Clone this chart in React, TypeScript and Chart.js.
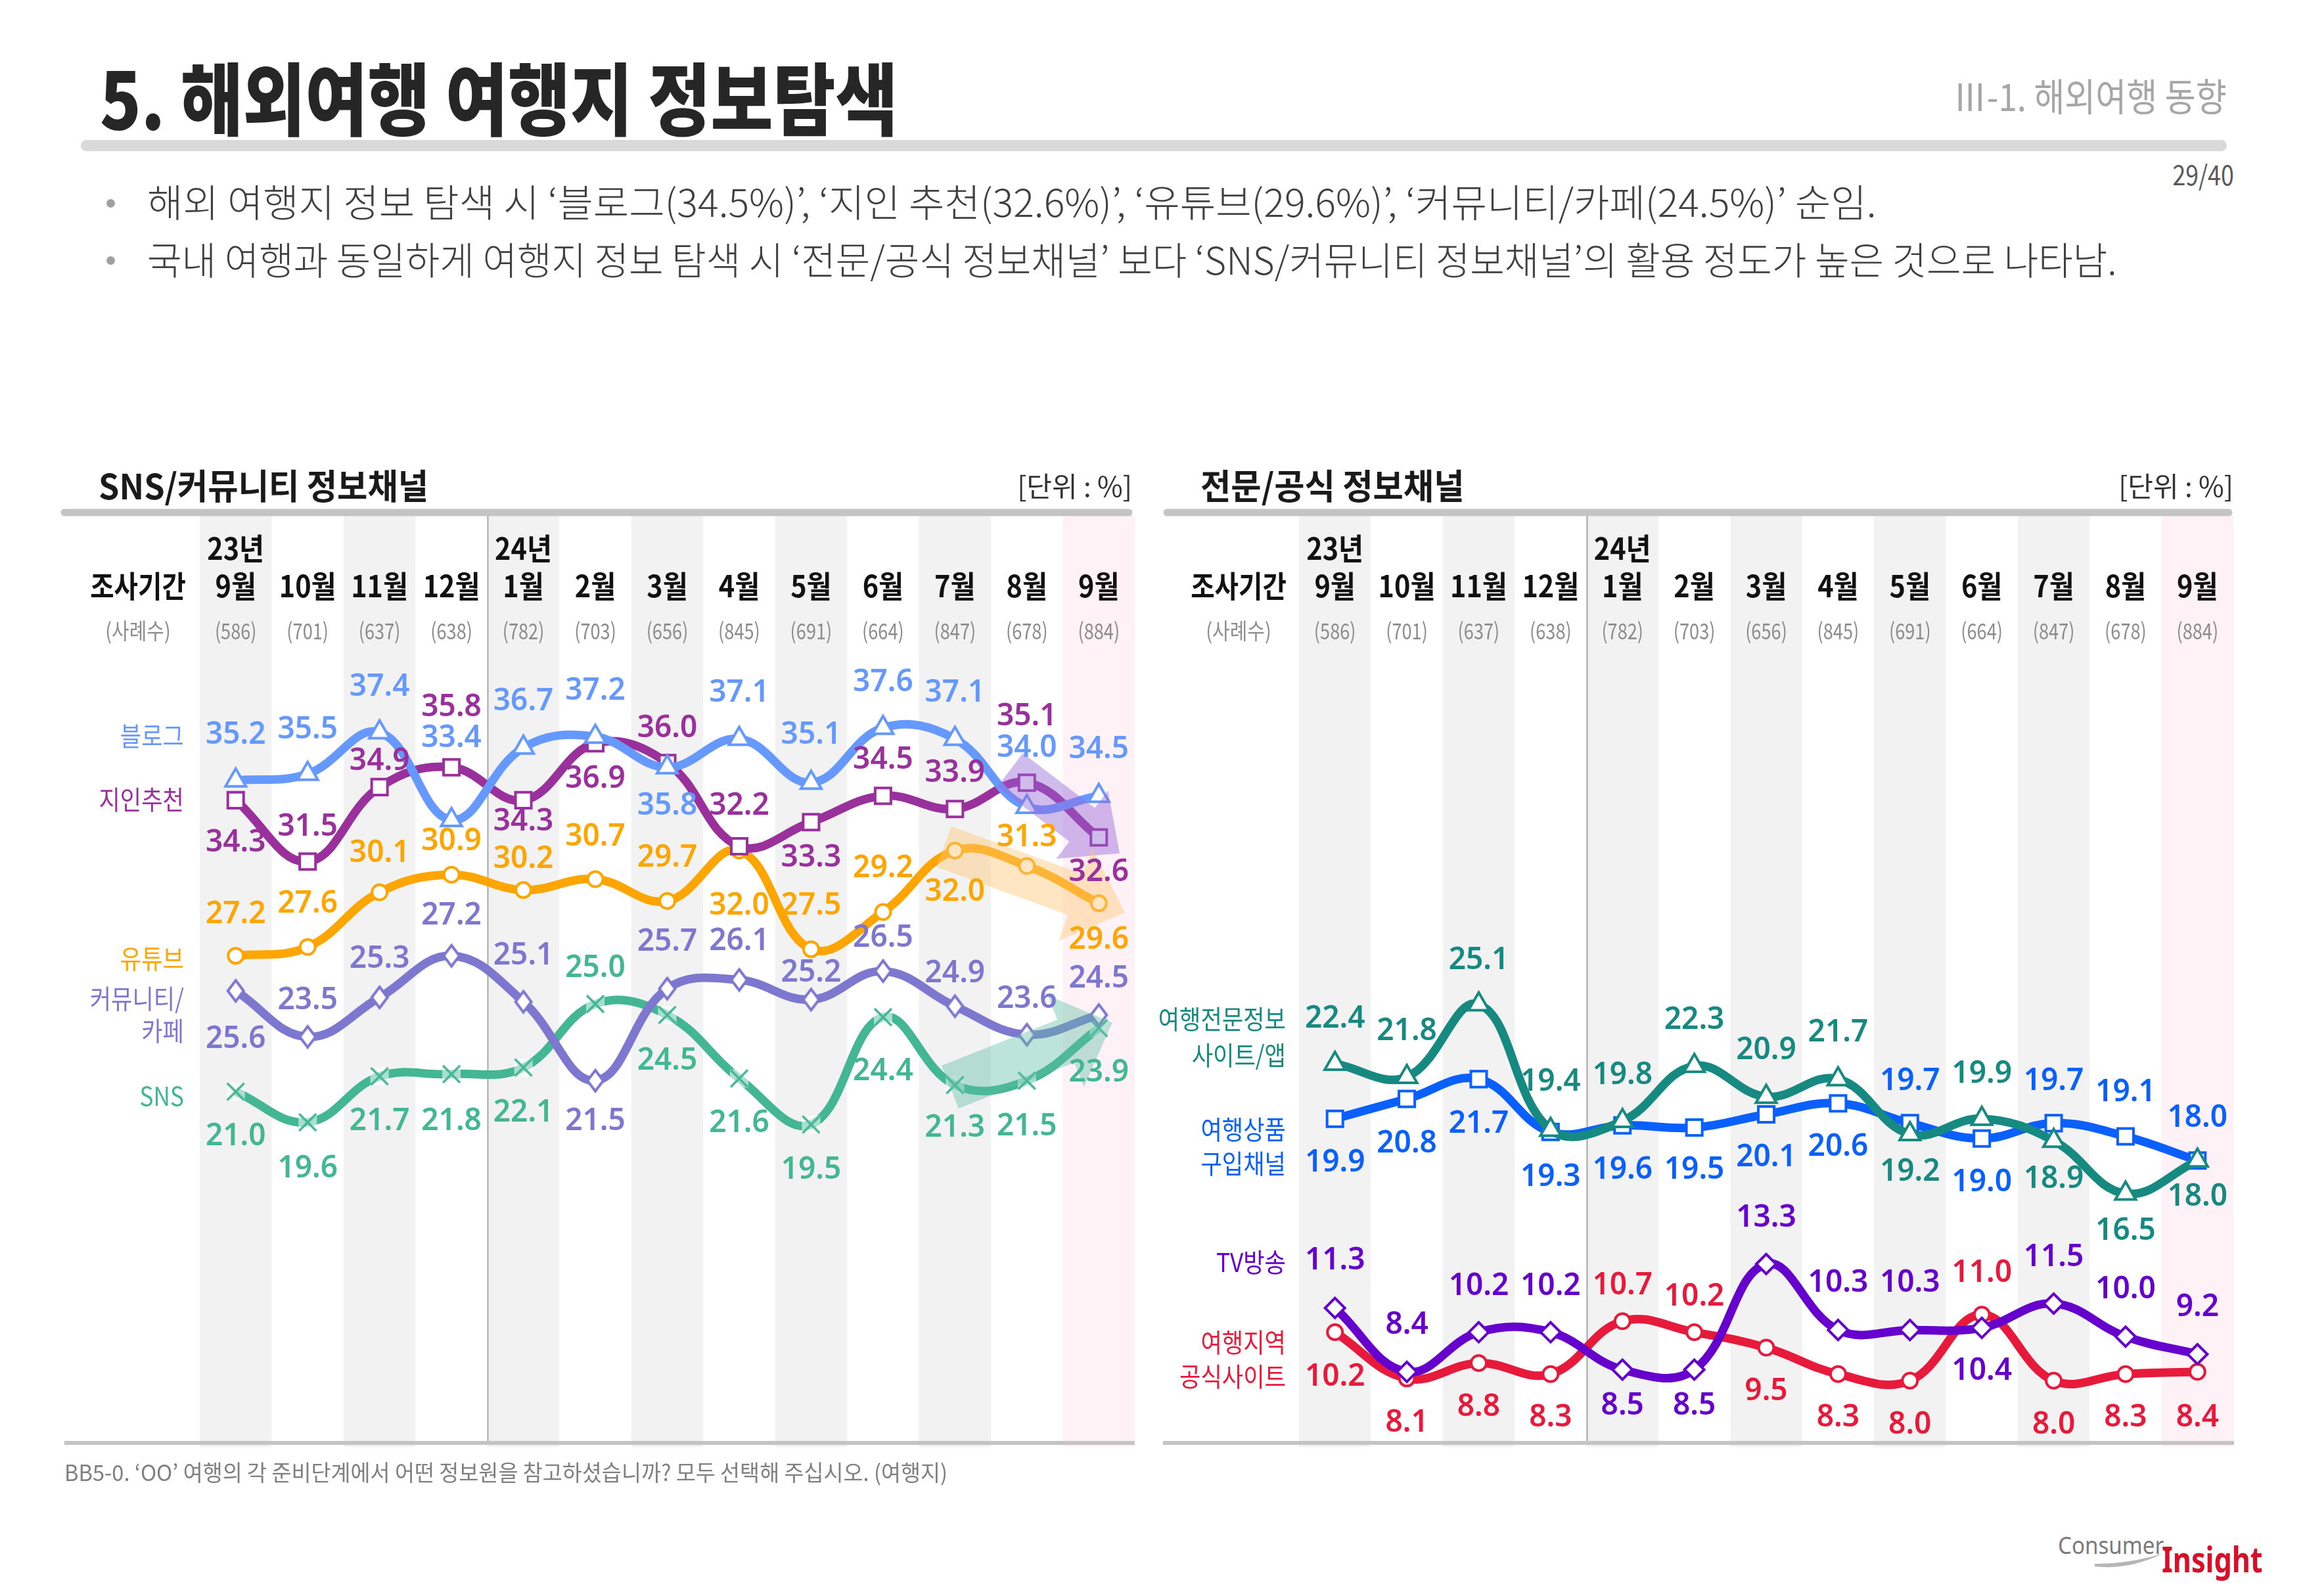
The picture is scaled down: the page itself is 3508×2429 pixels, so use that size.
import React, { useEffect, useRef } from 'react';
import { Chart, registerables } from 'chart.js';

Chart.register(...registerables);

// ---------- data ----------
const monthLabels = ['9월', '10월', '11월', '12월', '1월', '2월', '3월', '4월', '5월', '6월', '7월', '8월', '9월'];
const yearLabels = ['23년', '', '', '', '24년', '', '', '', '', '', '', '', ''];
const sampleSizes = [586, 701, 637, 638, 782, 703, 656, 845, 691, 664, 847, 678, 884];

// SNS/커뮤니티 정보채널
const blogValues = [35.2, 35.5, 37.4, 33.4, 36.7, 37.2, 35.8, 37.1, 35.1, 37.6, 37.1, 34.0, 34.5];
const friendValues = [34.3, 31.5, 34.9, 35.8, 34.3, 36.9, 36.0, 32.2, 33.3, 34.5, 33.9, 35.1, 32.6];
const youtubeValues = [27.2, 27.6, 30.1, 30.9, 30.2, 30.7, 29.7, 32.0, 27.5, 29.2, 32.0, 31.3, 29.6];
const communityValues = [25.6, 23.5, 25.3, 27.2, 25.1, 21.5, 25.7, 26.1, 25.2, 26.5, 24.9, 23.6, 24.5];
const snsValues = [21.0, 19.6, 21.7, 21.8, 22.1, 25.0, 24.5, 21.6, 19.5, 24.4, 21.3, 21.5, 23.9];

// 전문/공식 정보채널
const expertSiteValues = [22.4, 21.8, 25.1, 19.4, 19.8, 22.3, 20.9, 21.7, 19.2, 19.9, 18.9, 16.5, 18.0];
const purchaseValues = [19.9, 20.8, 21.7, 19.3, 19.6, 19.5, 20.1, 20.6, 19.7, 19.0, 19.7, 19.1, 18.0];
const tvValues = [11.3, 8.4, 10.2, 10.2, 8.5, 8.5, 13.3, 10.3, 10.3, 10.4, 11.5, 10.0, 9.2];
const officialSiteValues = [10.2, 8.1, 8.8, 8.3, 10.7, 10.2, 9.5, 8.3, 8.0, 11.0, 8.0, 8.3, 8.4];

// ---------- label placement (style: vertical offset of each value label, px) ----------
const blogDy = [-69, -67, -69, -124, -70, -69, 59, -70, -72, -69, -70, -89, -70];
const friendDy = [65, -52, -39, -91, 33, 55, -52, -61, 55, -54, -54, -100, 53];
const youtubeDy = [-63, -65, -59, -50, -47, -64, -65, 84, -66, -66, 63, -43, 56];
const communityDy = [74, -55, -58, -61, -70, 62, -71, -58, -40, -50, -49, -54, -55];
const snsDy = [68, 71, 69, 72, 69, -54, 70, 68, 69, 83, 65, 70, 68];
const expertDy = [-68, -69, -67, -73, -69, -69, -70, -70, 58, -68, 59, 57, 56];
const purchaseDy = [67, 68, 69, 69, 68, 65, 66, 67, -63, 67, -63, -67, -64];
const tvDy = [-72, -71, -70, -70, 55, 55, -70, -71, -71, 66, -70, -71, -71];
const officialDy = [68, 68, 67, 67, -54, -54, 67, 67, 68, -63, 68, 67, 70];

const KR = '"Noto Sans CJK KR", "Noto Sans", sans-serif';
const NUM = '"Noto Sans", "Open Sans", sans-serif';

function makeXMarker(color: string) {
  const c = document.createElement('canvas');
  c.width = 34; c.height = 34;
  const g = c.getContext('2d')!;
  g.fillStyle = 'rgba(255,255,255,0.55)';
  g.fillRect(3, 3, 28, 28);
  g.strokeStyle = color;
  g.lineWidth = 3.5;
  g.beginPath();
  g.moveTo(4, 4); g.lineTo(30, 30);
  g.moveTo(30, 4); g.lineTo(4, 30);
  g.stroke();
  return c;
}

function makeDiamond(color: string, w: number, h: number) {
  const c = document.createElement('canvas');
  c.width = w + 8; c.height = h + 8;
  const g = c.getContext('2d')!;
  const cx = c.width / 2, cy = c.height / 2;
  g.beginPath();
  g.moveTo(cx, cy - h / 2); g.lineTo(cx + w / 2, cy); g.lineTo(cx, cy + h / 2); g.lineTo(cx - w / 2, cy);
  g.closePath();
  g.fillStyle = '#ffffff'; g.fill();
  g.strokeStyle = color; g.lineWidth = 4; g.lineJoin = 'miter'; g.stroke();
  return c;
}

function txt(ctx: CanvasRenderingContext2D, s: string, x: number, y: number, font: string, color: string, align: CanvasTextAlign = 'center', sx = 1) {
  ctx.save();
  ctx.font = font;
  ctx.fillStyle = color;
  ctx.textAlign = align;
  ctx.textBaseline = 'middle';
  ctx.translate(x, y);
  ctx.scale(sx, 1);
  ctx.fillText(s, 0, 0);
  ctx.restore();
}

function drawArrow(ctx: CanvasRenderingContext2D, x1: number, y1: number, x2: number, y2: number, a: any) {
  const dx = x2 - x1, dy = y2 - y1;
  const len = Math.hypot(dx, dy);
  const ux = dx / len, uy = dy / len;
  const nx = -uy, ny = ux;
  const sx = x1 - ux * a.back, sy = y1 - uy * a.back;
  const tx = x2 + ux * a.extend, ty = y2 + uy * a.extend;
  const bx = tx - ux * a.headL, by = ty - uy * a.headL;
  ctx.save();
  ctx.beginPath();
  ctx.moveTo(sx + nx * a.shaftW / 2, sy + ny * a.shaftW / 2);
  ctx.lineTo(bx + nx * a.shaftW / 2, by + ny * a.shaftW / 2);
  ctx.lineTo(bx + nx * a.headW / 2, by + ny * a.headW / 2);
  ctx.lineTo(tx, ty);
  ctx.lineTo(bx - nx * a.headW / 2, by - ny * a.headW / 2);
  ctx.lineTo(bx - nx * a.shaftW / 2, by - ny * a.shaftW / 2);
  ctx.lineTo(sx - nx * a.shaftW / 2, sy - ny * a.shaftW / 2);
  ctx.closePath();
  ctx.fillStyle = a.color;
  ctx.fill();
  ctx.restore();
}

type Panel = any;

const leftPanel: Panel = {
  ox: 0, oy: 650, w: 1730, h: 1640,
  area: { left: 304, right: 1727, top: 785, bottom: 2195 },
  yMin: 5.0, yMax: 47.28,
  title: 'SNS/커뮤니티 정보채널', titleX: 150, titleSx: 0.95,
  unitRight: 1723, barX1: 93, barX2: 1723, baseX1: 98, baseX2: 1727,
  periodX: 210, nameRight: 280,
  series: [
    { values: blogValues, dy: blogDy, color: '#6699ff', style: 'triangle', radius: 18, names: ['블로그'], nameYs: [1120] },
    { values: friendValues, dy: friendDy, color: '#99309b', style: 'rect', radius: 17, names: ['지인추천'], nameYs: [1217] },
    { values: youtubeValues, dy: youtubeDy, color: '#ffa500', style: 'circle', radius: 11.5, names: ['유튜브'], nameYs: [1459] },
    { values: communityValues, dy: communityDy, color: '#7e77d0', style: 'tallDiamond', radius: 14, names: ['커뮤니티/', '카페'], nameYs: [1520, 1569] },
    { values: snsValues, dy: snsDy, color: '#43b692', style: 'xbox', radius: 15, names: ['SNS'], nameYs: [1668] },
  ],
  arrows: [
    { ds: 1, from: 11, to: 12, back: 32, extend: 40, shaftW: 64, headW: 130, headL: 72, color: 'rgba(150,105,215,0.45)' },
    { ds: 2, from: 10, to: 12, back: 18, extend: 42, shaftW: 66, headW: 150, headL: 80, color: 'rgba(255,200,120,0.45)' },
    { ds: 4, from: 10, to: 12, back: 8, extend: 22, shaftW: 70, headW: 150, headL: 76, color: 'rgba(95,190,165,0.42)' },
  ],
};

const rightPanel: Panel = {
  ox: 1730, oy: 650, w: 1778, h: 1640,
  area: { left: 1977, right: 3399, top: 785, bottom: 2195 },
  yMin: 5.2, yMax: 47.3,
  title: '전문/공식 정보채널', titleX: 1827, titleSx: 0.95,
  unitRight: 3399, barX1: 1771, barX2: 3397, baseX1: 1770, baseX2: 3400,
  periodX: 1885, nameRight: 1957,
  series: [
    { values: expertSiteValues, dy: expertDy, color: '#168a80', style: 'triangle', radius: 18, names: ['여행전문정보', '사이트/앱'], nameYs: [1551, 1606] },
    { values: purchaseValues, dy: purchaseDy, color: '#0a60ff', style: 'rect', radius: 17, names: ['여행상품', '구입채널'], nameYs: [1719, 1771] },
    { values: tvValues, dy: tvDy, color: '#6600cc', style: 'rectRot', radius: 15, names: ['TV방송'], nameYs: [1921] },
    { values: officialSiteValues, dy: officialDy, color: '#e81a3b', style: 'circle', radius: 11.5, names: ['여행지역', '공식사이트'], nameYs: [2043, 2095] },
  ],
  arrows: [],
};

function buildChart(canvas: HTMLCanvasElement, p: Panel) {
  const X = (v: number) => v - p.ox;
  const Y = (v: number) => v - p.oy;

  const datasets = p.series.map((s: any, k: number) => {
    let pointStyle: any = s.style;
    if (s.style === 'xbox') pointStyle = makeXMarker(s.color);
    if (s.style === 'tallDiamond') pointStyle = makeDiamond(s.color, 24, 32);
    return {
      label: s.names.join(''),
      data: s.values,
      borderColor: s.color,
      backgroundColor: s.color,
      borderWidth: 13,
      tension: 0.4,
      fill: false,
      pointStyle,
      pointRadius: s.radius,
      pointHoverRadius: s.radius,
      pointBorderWidth: 4,
      pointBackgroundColor: '#ffffff',
      pointBorderColor: s.color,
      order: k,
    };
  });

  const decor = {
    id: 'decor',
    beforeDraw(chart: any) {
      const ctx: CanvasRenderingContext2D = chart.ctx;
      const ca = chart.chartArea;
      const xs = chart.scales.x;
      const n = monthLabels.length;
      const cw = (ca.right - ca.left) / n;
      ctx.save();
      ctx.fillStyle = '#ffffff';
      ctx.fillRect(0, 0, chart.width, chart.height);
      // column bands
      for (let i = 0; i < n; i++) {
        const col = i === n - 1 ? '#fff2f7' : (i % 2 === 0 ? '#f2f2f2' : '#ffffff');
        ctx.fillStyle = col;
        ctx.fillRect(ca.left + i * cw, ca.top, cw, Y(2202) - ca.top);
      }
      // year separator
      ctx.strokeStyle = '#a6a6a6';
      ctx.lineWidth = 2;
      ctx.beginPath();
      const sepX = Math.round(ca.left + 4 * cw) + 0.5;
      ctx.moveTo(sepX, ca.top);
      ctx.lineTo(sepX, ca.bottom);
      ctx.stroke();
      // header bar
      ctx.strokeStyle = '#c4c4c4';
      ctx.lineWidth = 11;
      ctx.lineCap = 'round';
      ctx.beginPath();
      ctx.moveTo(X(p.barX1 + 5), Y(780));
      ctx.lineTo(X(p.barX2 - 5), Y(780));
      ctx.stroke();
      // base line
      ctx.strokeStyle = '#c4c4c4';
      ctx.lineWidth = 6;
      ctx.lineCap = 'butt';
      ctx.beginPath();
      ctx.moveTo(X(p.baseX1), Y(2196));
      ctx.lineTo(X(p.baseX2), Y(2196));
      ctx.stroke();
      ctx.restore();

      // titles
      txt(ctx, p.title, X(p.titleX), Y(740), `bold 53px ${KR}`, '#1a1a1a', 'left', p.titleSx);
      txt(ctx, '[단위 : %]', X(p.unitRight), Y(740), `42px ${KR}`, '#333333', 'right', 1.0);

      // header rows
      txt(ctx, '조사기간', X(p.periodX), Y(892), `bold 46px ${KR}`, '#111111', 'center', 0.86);
      txt(ctx, '(사례수)', X(p.periodX), Y(960), `34px ${KR}`, '#8c8c8c', 'center', 0.85);
      for (let i = 0; i < n; i++) {
        const x = xs.getPixelForValue(i);
        if (yearLabels[i]) txt(ctx, yearLabels[i], x, Y(835), `bold 46px ${KR}`, '#111111', 'center', 0.9);
        txt(ctx, monthLabels[i], x, Y(892), `bold 46px ${KR}`, '#111111', 'center', 0.9);
        txt(ctx, `(${sampleSizes[i]})`, x, Y(960), `34px ${KR}`, '#8c8c8c', 'center', 0.8);
      }

      // series names
      p.series.forEach((s: any) => {
        s.names.forEach((nm: string, j: number) => {
          txt(ctx, nm, X(p.nameRight), Y(s.nameYs[j]), `40px ${KR}`, s.color, 'right', 0.88);
        });
      });
    },
    afterDatasetsDraw(chart: any) {
      const ctx: CanvasRenderingContext2D = chart.ctx;
      p.arrows.forEach((a: any) => {
        const pts = chart.getDatasetMeta(a.ds).data;
        drawArrow(ctx, pts[a.from].x, pts[a.from].y, pts[a.to].x, pts[a.to].y, a);
      });
      p.series.forEach((s: any, k: number) => {
        const pts = chart.getDatasetMeta(k).data;
        s.values.forEach((v: number, i: number) => {
          txt(ctx, v.toFixed(1), pts[i].x, pts[i].y + s.dy[i], `600 46px ${NUM}`, s.color, 'center', 1);
        });
      });
    },
  };

  return new Chart(canvas, {
    type: 'line',
    data: { labels: monthLabels, datasets },
    options: {
      responsive: false,
      animation: false,
      devicePixelRatio: 1,
      events: [],
      layout: {
        autoPadding: false,
        padding: {
          left: p.area.left - p.ox,
          right: p.ox + p.w - p.area.right,
          top: p.area.top - p.oy,
          bottom: p.oy + p.h - p.area.bottom,
        },
      },
      plugins: { legend: { display: false }, tooltip: { enabled: false } },
      scales: {
        x: { type: 'category', offset: true, display: false, grid: { display: false } },
        y: { type: 'linear', min: p.yMin, max: p.yMax, display: false, grid: { display: false } },
      },
    } as any,
    plugins: [decor],
  });
}

function ChartPanel({ panel }: { panel: Panel }) {
  const ref = useRef<HTMLCanvasElement>(null);
  useEffect(() => {
    const chart = buildChart(ref.current!, panel);
    return () => chart.destroy();
  }, [panel]);
  return (
    <canvas
      ref={ref}
      width={panel.w}
      height={panel.h}
      style={{ position: 'absolute', left: panel.ox, top: panel.oy, width: panel.w, height: panel.h }}
    />
  );
}

function Txt(props: any) {
  const { x, cy, size, color = '#000', weight = 400, sx = 1, align = 'left', family = KR, children } = props;
  const style: any = {
    position: 'absolute',
    top: cy - size * 0.6,
    fontSize: size,
    lineHeight: `${size * 1.2}px`,
    whiteSpace: 'nowrap',
    color,
    fontWeight: weight,
    fontFamily: family,
    transform: `scaleX(${sx})`,
    transformOrigin: align === 'left' ? 'left center' : 'right center',
  };
  if (align === 'left') style.left = x; else style.right = 3508 - x;
  return <div style={style}>{children}</div>;
}

export default function App() {
  return (
    <div style={{ position: 'absolute', left: 0, top: 0, width: 3508, height: 2429, background: '#ffffff', overflow: 'hidden', fontFamily: KR }}>
      <Txt x={152} cy={145} size={120} weight={900} sx={0.86} color="#262626">5. 해외여행 여행지 정보탐색</Txt>
      <Txt x={3389} cy={145} size={58} sx={0.88} color="#a6a6a6" align="right">Ⅲ-1. 해외여행 동향</Txt>
      <div style={{ position: 'absolute', left: 123, top: 213, width: 3266, height: 17, borderRadius: 9, background: '#d9d9d9' }} />
      <Txt x={3400} cy={264} size={42} sx={0.85} color="#595959" align="right">29/40</Txt>

      <div style={{ position: 'absolute', left: 162, top: 303, width: 13, height: 13, borderRadius: 7, background: '#a0a0a0' }} />
      <Txt x={224} cy={306} size={58} weight={300} sx={1.02} color="#404040">해외 여행지 정보 탐색 시 ‘블로그(34.5%)’, ‘지인 추천(32.6%)’, ‘유튜브(29.6%)’, ‘커뮤니티/카페(24.5%)’ 순임.</Txt>
      <div style={{ position: 'absolute', left: 162, top: 390, width: 13, height: 13, borderRadius: 7, background: '#a0a0a0' }} />
      <Txt x={224} cy={394} size={58} weight={300} sx={0.984} color="#404040">국내 여행과 동일하게 여행지 정보 탐색 시 ‘전문/공식 정보채널’ 보다 ‘SNS/커뮤니티 정보채널’의 활용 정도가 높은 것으로 나타남.</Txt>

      <ChartPanel panel={leftPanel} />
      <ChartPanel panel={rightPanel} />

      <Txt x={98} cy={2240} size={34} sx={0.96} color="#7f7f7f">BB5-0. ‘OO’ 여행의 각 준비단계에서 어떤 정보원을 참고하셨습니까? 모두 선택해 주십시오. (여행지)</Txt>

      <svg style={{ position: 'absolute', left: 3180, top: 2350, width: 120, height: 50 }} viewBox="0 0 120 50">
        <path d="M8 34 Q 60 40 112 14 Q 62 30 8 30 Z" fill="#b5b5b5" />
      </svg>
      <Txt x={3132} cy={2352} size={36} sx={0.92} color="#7a7a7a" family={NUM}>Consumer</Txt>
      <Txt x={3290} cy={2372} size={54} weight={700} sx={0.8} color="#d7102a" family={NUM}>Insight</Txt>
    </div>
  );
}
